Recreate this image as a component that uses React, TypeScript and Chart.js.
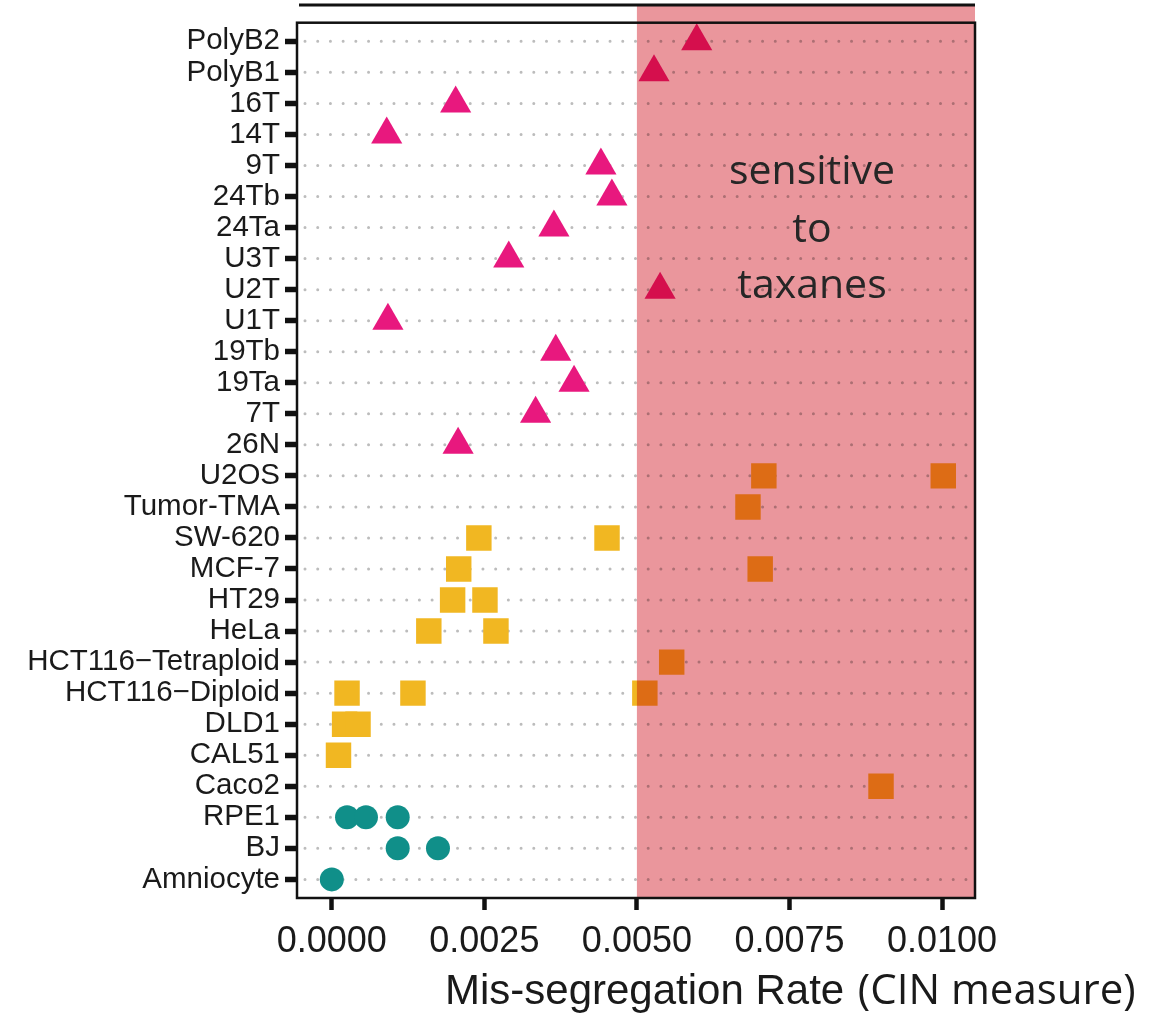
import React, { useEffect, useRef } from "react";
import { Chart, registerables } from "chart.js";

Chart.register(...registerables);

const categories = [
  "PolyB2", "PolyB1", "16T", "14T", "9T", "24Tb", "24Ta", "U3T", "U2T", "U1T",
  "19Tb", "19Ta", "7T", "26N", "U2OS", "Tumor-TMA", "SW-620", "MCF-7", "HT29",
  "HeLa", "HCT116\u2212Tetraploid", "HCT116\u2212Diploid", "DLD1", "CAL51",
  "Caco2", "RPE1", "BJ", "Amniocyte",
];

const tumorLines = ["PolyB2", "PolyB1", "16T", "14T", "9T", "24Tb", "24Ta", "U3T", "U2T", "U1T", "19Tb", "19Ta", "7T", "26N"];
const tumorRates = [0.00598, 0.00528, 0.00203, 0.0009, 0.00441, 0.00459, 0.00364, 0.0029, 0.00538, 0.00092, 0.00367, 0.00397, 0.00334, 0.00207];

const cancerLines = [
  "U2OS", "U2OS", "Tumor-TMA", "SW-620", "SW-620", "MCF-7", "MCF-7", "HT29", "HT29",
  "HeLa", "HeLa", "HCT116\u2212Tetraploid", "HCT116\u2212Diploid", "HCT116\u2212Diploid",
  "HCT116\u2212Diploid", "DLD1", "DLD1", "CAL51", "Caco2",
];
const cancerRates = [
  0.00708, 0.01002, 0.00682, 0.00241, 0.00451, 0.00208, 0.00702, 0.00198, 0.00251,
  0.00159, 0.00269, 0.00557, 0.00025, 0.00133, 0.00513, 0.00021, 0.00043, 0.00011, 0.009,
];

const normalLines = ["RPE1", "RPE1", "RPE1", "BJ", "BJ", "Amniocyte"];
const normalRates = [0.00025, 0.00056, 0.00108, 0.00108, 0.00174, 0.0];

const xTicks = [0, 0.0025, 0.005, 0.0075, 0.01];
const threshold = 0.005;
const annotationLines = ["sensitive", "to", "taxanes"];

const toPoints = (names: string[], rates: number[]) =>
  names.map((n, i) => ({ x: rates[i], y: categories.indexOf(n) }));

const overlayPlugin = {
  id: "overlay",
  beforeDraw(chart: any) {
    const ctx = chart.ctx;
    ctx.save();
    ctx.fillStyle = "#ffffff";
    ctx.fillRect(0, 0, chart.width, chart.height);
    ctx.restore();
  },
  beforeDatasetsDraw(chart: any) {
    const { ctx, chartArea } = chart;
    const y = chart.scales.y;
    ctx.save();
    ctx.strokeStyle = "#bcbcbc";
    ctx.lineWidth = 3;
    ctx.lineCap = "round";
    ctx.setLineDash([0.01, 12.7]);
    categories.forEach((_, i) => {
      const py = y.getPixelForValue(i);
      ctx.beginPath();
      ctx.moveTo(chartArea.left + 8, py);
      ctx.lineTo(chartArea.right - 2, py);
      ctx.stroke();
    });
    ctx.restore();
  },
  afterDatasetsDraw(chart: any) {
    const { ctx, chartArea } = chart;
    const x = chart.scales.x;
    const x0 = x.getPixelForValue(threshold);
    ctx.save();
    ctx.globalCompositeOperation = "multiply";
    ctx.fillStyle = "rgb(234,150,156)";
    ctx.fillRect(x0, 5, chartArea.right - x0, chartArea.bottom - 5);
    ctx.restore();

    ctx.save();
    ctx.strokeStyle = "#111";
    ctx.lineWidth = 2.5;
    ctx.strokeRect(chartArea.left, chartArea.top, chartArea.right - chartArea.left, chartArea.bottom - chartArea.top);
    ctx.lineWidth = 3;
    ctx.beginPath();
    ctx.moveTo(chartArea.left + 2, 5);
    ctx.lineTo(chartArea.right, 5);
    ctx.stroke();

    ctx.fillStyle = "#262626";
    ctx.font = '41px "Open Sans"';
    ctx.textAlign = "center";
    ctx.textBaseline = "alphabetic";
    const baselines = [184, 242, 298];
    annotationLines.forEach((t, i) => ctx.fillText(t, 812, baselines[i]));

    ctx.textAlign = "left";
    ctx.font = '42px "Liberation Sans", Arial';
    const part1 = "Mis-segregation Rate ";
    ctx.fillStyle = "#1a1a1a";
    ctx.fillText(part1, 445, 1004);
    const w = ctx.measureText(part1).width;
    ctx.font = '42px "Open Sans"';
    ctx.fillText("(CIN measure)", 445 + w + 2, 1004);
    ctx.restore();
  },
};

export default function App() {
  const ref = useRef<HTMLCanvasElement | null>(null);
  useEffect(() => {
    if (!ref.current) return;
    const chart = new Chart(ref.current, {
      type: "scatter",
      data: {
        datasets: [
          {
            label: "cancer",
            data: toPoints(cancerLines, cancerRates),
            pointStyle: "rect",
            pointRadius: 18,
            pointHoverRadius: 18,
            backgroundColor: "rgb(241,183,34)",
            borderColor: "rgb(241,183,34)",
            borderWidth: 0,
          },
          {
            label: "tumor",
            data: toPoints(tumorLines, tumorRates),
            pointStyle: "triangle",
            pointRadius: 18,
            pointHoverRadius: 18,
            backgroundColor: "rgb(232,24,126)",
            borderColor: "rgb(232,24,126)",
            borderWidth: 0,
          },
          {
            label: "normal",
            data: toPoints(normalLines, normalRates),
            pointStyle: "circle",
            pointRadius: 12,
            pointHoverRadius: 12,
            backgroundColor: "rgb(16,143,137)",
            borderColor: "rgb(16,143,137)",
            borderWidth: 0,
          },
        ],
      },
      options: {
        animation: false,
        responsive: false,
        devicePixelRatio: 1,
        layout: { padding: { top: 22, right: 186, left: 0, bottom: 0 } },
        plugins: { legend: { display: false }, tooltip: { enabled: false }, title: { display: false } },
        scales: {
          x: {
            type: "linear",
            min: -0.00057,
            max: 0.01054,
            afterBuildTicks: (s: any) => {
              s.ticks = xTicks.map((v) => ({ value: v }));
            },
            afterFit: (s: any) => {
              s.height = 117;
            },
            ticks: {
              callback: (v: any) => Number(v).toFixed(4),
              font: { family: '"Liberation Sans", Arial', size: 36 },
              color: "#1a1a1a",
              padding: 10,
              maxRotation: 0,
              autoSkip: false,
            },
            grid: {
              drawOnChartArea: false,
              drawTicks: true,
              tickLength: 12,
              tickWidth: 4.5,
              tickColor: "#111",
            },
            border: { display: false },
          },
          y: {
            type: "linear",
            reverse: true,
            min: -0.6,
            max: 27.6,
            afterBuildTicks: (s: any) => {
              s.ticks = categories.map((_, i) => ({ value: i }));
            },
            afterFit: (s: any) => {
              s.width = 297;
            },
            ticks: {
              callback: (v: any) => categories[v] ?? "",
              font: { family: '"Liberation Sans", Arial', size: 29.5 },
              color: "#1a1a1a",
              padding: 5,
              autoSkip: false,
            },
            grid: {
              drawOnChartArea: false,
              drawTicks: true,
              tickLength: 12,
              tickWidth: 5.5,
              tickColor: "#111",
            },
            border: { display: false },
          },
        },
      },
      plugins: [overlayPlugin],
    });
    return () => chart.destroy();
  }, []);
  return (
    <div style={{ position: "fixed", left: 0, top: 0, width: 1161, height: 1015 }}>
      <canvas ref={ref} width={1161} height={1015} style={{ width: 1161, height: 1015 }} />
    </div>
  );
}
